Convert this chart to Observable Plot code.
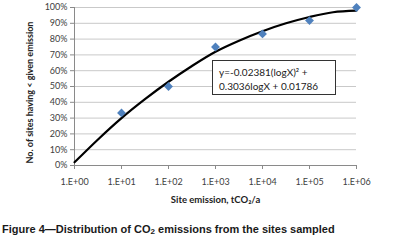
<!DOCTYPE html>
<html>
<head>
<meta charset="utf-8">
<script src="https://cdn.jsdelivr.net/npm/d3@7"></script>
<script src="https://cdn.jsdelivr.net/npm/@observablehq/plot@0.6"></script>
<style>
  html, body { margin: 0; padding: 0; background: #fff; }
  #wrap { position: relative; width: 399px; height: 245px; overflow: hidden; }
  #eq { position: absolute; left: 212px; top: 60px; width: 124px; height: 35px;
        border: 1px solid #333; background: #fff; font-family: Lato, sans-serif;
        font-size: 10px; line-height: 14px; color: #222; padding: 4px 0 0 6px; box-sizing: border-box; white-space: nowrap; }
  #cap { position: absolute; left: 2px; top: 223px; font-family: "Liberation Sans", Arial, sans-serif;
         font-weight: bold; font-size: 11px; line-height: 13px; color: #1a1a1a; white-space: nowrap; }
  #cap sub { font-size: 8px; vertical-align: -1px; line-height: 0; }
</style>
</head>
<body>
<div id="wrap"></div>
<script>
// Data
const decades = [1, 10, 100, 1000, 10000, 100000, 1000000];
const decadeLabels = ["1.E+00", "1.E+01", "1.E+02", "1.E+03", "1.E+04", "1.E+05", "1.E+06"];
const yTicks = [0, 0.1, 0.2, 0.3, 0.4, 0.5, 0.6, 0.7, 0.8, 0.9, 1];

const siteEmission = [10, 100, 1000, 10000, 100000, 1000000];
const shareBelow = [0.333, 0.5, 0.75, 0.833, 0.917, 1.0];

// Trend line points
const trendX = [1, 3.16, 10, 31.6, 100, 316, 1000, 3162, 10000, 31623, 100000, 316228, 1000000];
const trendY = [0.02, 0.165, 0.30, 0.42, 0.53, 0.63, 0.72, 0.79, 0.85, 0.90, 0.94, 0.97, 0.98];

const xTitle = "Site emission, tCO\u2082/a";
const yTitle = "No. of sites having < given emission";
const eqLines = ["y=-0.02381(logX)\u00b2 +", "0.3036logX + 0.01786"];

const labelMap = new Map(decades.map((d, i) => [d, decadeLabels[i]]));
const pts = siteEmission.map((x, i) => ({x, y: shareBelow[i]}));
const trend = trendX.map((x, i) => ({x, y: trendY[i]}));

const chart = Plot.plot({
  width: 399,
  height: 218,
  marginLeft: 74,
  marginRight: 43,
  marginTop: 7,
  marginBottom: 53,
  style: {fontFamily: "Lato, sans-serif", fontSize: "9px", color: "#404040", background: "white"},
  x: {type: "log", domain: [1, 1000000]},
  y: {domain: [0, 1]},
  marks: [
    Plot.gridY(yTicks, {stroke: "#c9c9c9", strokeOpacity: 1}),
    Plot.axisY(yTicks, {tickFormat: d3.format(".0%"), tickSize: 4, tickPadding: 3, label: null, stroke: "#8a8a8a"}),
    Plot.axisX(decades, {tickFormat: d => labelMap.get(d), tickSize: 4, tickPadding: 9, label: null, stroke: "#8a8a8a"}),
    Plot.ruleX([1], {stroke: "#8a8a8a"}),
    Plot.ruleY([0], {stroke: "#8a8a8a"}),
    Plot.line(trend, {x: "x", y: "y", stroke: "#000", strokeWidth: 2.2, curve: "catmull-rom"}),
    Plot.dot(pts, {x: "x", y: "y", symbol: "diamond2", r: 4, fill: "#4f81bd", stroke: "none"}),
    Plot.text([xTitle], {frameAnchor: "bottom", dy: 37, fontWeight: "bold", fontSize: 9.5, fill: "#222", text: d => d}),
    Plot.text([yTitle], {frameAnchor: "left", rotate: -90, textAnchor: "middle", dx: -44, dy: 6, fontWeight: "bold", fontSize: 9, fill: "#222", text: d => d})
  ]
});

const wrap = document.getElementById("wrap");
wrap.appendChild(chart);

const eq = document.createElement("div");
eq.id = "eq";
eq.innerHTML = eqLines.map(s => `<div>${s}</div>`).join("");
wrap.appendChild(eq);

const cap = document.createElement("div");
cap.id = "cap";
cap.innerHTML = "Figure 4\u2014Distribution of CO<sub>2</sub> emissions from the sites sampled";
wrap.appendChild(cap);
</script>
</body>
</html>
